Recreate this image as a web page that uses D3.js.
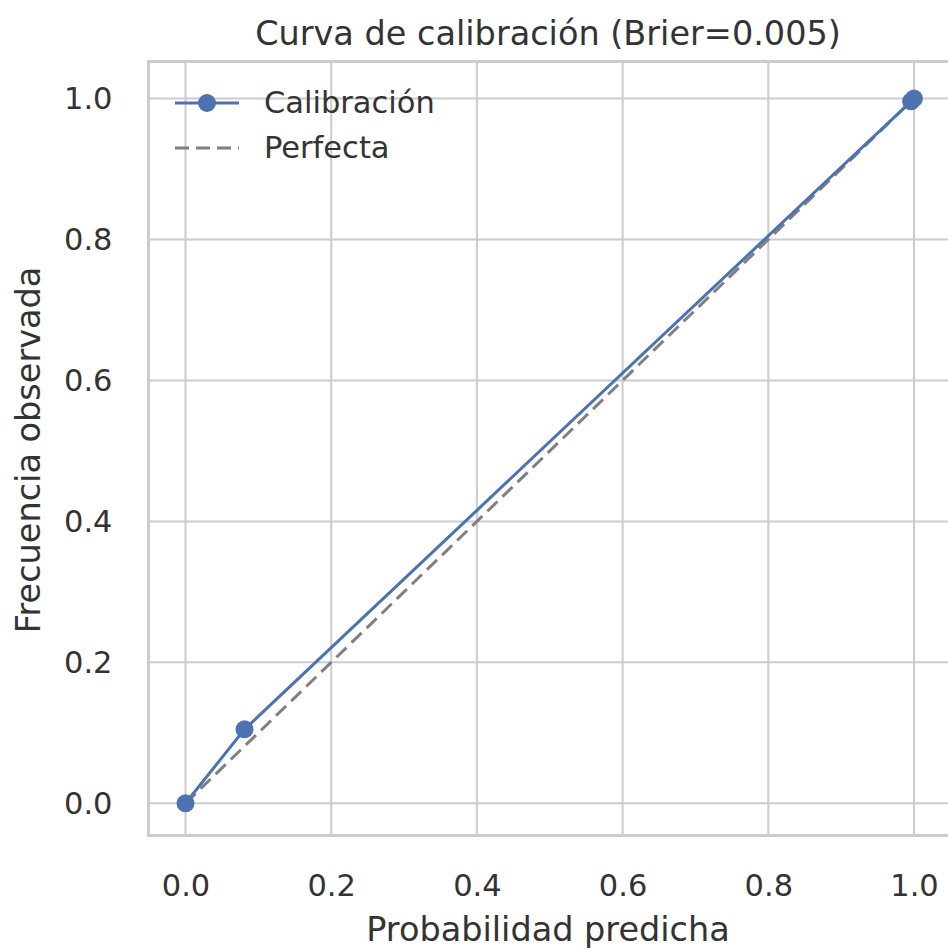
<!DOCTYPE html>
<html><head><meta charset="utf-8">
<script src="https://cdn.jsdelivr.net/npm/d3@7"></script>
<style>body{margin:0;background:#fff;} svg{display:block;font-family:"DejaVu Sans",sans-serif;}</style>
</head><body>
<script>
const predicted = [0.0, 0.081, 0.996, 1.0];
const observed  = [0.0, 0.105, 0.996, 1.0];
const perfect   = [0, 1];
const tickVals  = [0.0, 0.2, 0.4, 0.6, 0.8, 1.0];
const title = "Curva de calibración (Brier=0.005)";
const xLabel = "Probabilidad predicha";
const yLabel = "Frecuencia observada";
const legendLabels = ["Calibración", "Perfecta"];

const W = 948, H = 952;
const L = 148.5, R = 948, T = 61.5, B = 835.5;
const svg = d3.select("body").append("svg").attr("width", W).attr("height", H);
const x = d3.scaleLinear().domain([0, 1]).range([185.5, 914]);
const y = d3.scaleLinear().domain([0, 1]).range([803.3, 98.5]);
const grid = "#cccccc";
const txt = "#333333";

// grid
svg.append("g").selectAll("line").data(tickVals).join("line")
  .attr("x1", d => x(d)).attr("x2", d => x(d)).attr("y1", T).attr("y2", B)
  .attr("stroke", grid).attr("stroke-width", 2);
svg.append("g").selectAll("line").data(tickVals).join("line")
  .attr("y1", d => y(d)).attr("y2", d => y(d)).attr("x1", L).attr("x2", R)
  .attr("stroke", grid).attr("stroke-width", 2);

// spines
svg.append("rect").attr("x", L).attr("y", T).attr("width", R - L + 4).attr("height", B - T)
  .attr("fill", "none").attr("stroke", grid).attr("stroke-width", 3);

// axes tick labels
const xAxis = d3.axisBottom(x).tickValues(tickVals).tickFormat(d3.format(".1f")).tickSize(0).tickPadding(0);
const gx = svg.append("g").attr("transform", `translate(0,${B})`).call(xAxis);
gx.select(".domain").remove();
gx.selectAll("text").attr("font-size", 30.5).attr("fill", txt).attr("font-family", "DejaVu Sans")
  .attr("y", 60).attr("dy", "0");
const yAxis = d3.axisLeft(y).tickValues(tickVals).tickFormat(d3.format(".1f")).tickSize(0).tickPadding(36);
const gy = svg.append("g").attr("transform", `translate(${L},0)`).call(yAxis);
gy.select(".domain").remove();
gy.selectAll("text").attr("font-size", 30.5).attr("fill", txt).attr("font-family", "DejaVu Sans");

// perfect line
svg.append("line").attr("x1", x(perfect[0])).attr("y1", y(perfect[0]))
  .attr("x2", x(perfect[1])).attr("y2", y(perfect[1]))
  .attr("stroke", "#808080").attr("stroke-width", 3).attr("stroke-dasharray", "14,7");

// calibration
const pts = predicted.map((p, i) => [p, observed[i]]);
svg.append("path").datum(pts).attr("fill", "none").attr("stroke", "#4c72b0").attr("stroke-width", 3)
  .attr("d", d3.line().x(d => x(d[0])).y(d => y(d[1])));
svg.append("g").selectAll("circle").data(pts).join("circle")
  .attr("cx", d => x(d[0])).attr("cy", d => y(d[1])).attr("r", 9).attr("fill", "#4c72b0");

// labels
svg.append("text").attr("x", 548).attr("y", 45).attr("text-anchor", "middle")
  .attr("font-size", 33.5).attr("fill", txt).text(title);
svg.append("text").attr("x", 548).attr("y", 941).attr("text-anchor", "middle")
  .attr("font-size", 33.5).attr("fill", txt).text(xLabel);
svg.append("text").attr("transform", `translate(40,450) rotate(-90)`).attr("text-anchor", "middle")
  .attr("font-size", 33.5).attr("fill", txt).text(yLabel);

// legend
const lg = svg.append("g");
lg.append("line").attr("x1", 175).attr("x2", 239).attr("y1", 103).attr("y2", 103)
  .attr("stroke", "#4c72b0").attr("stroke-width", 3);
lg.append("circle").attr("cx", 207).attr("cy", 103).attr("r", 9).attr("fill", "#4c72b0");
lg.append("line").attr("x1", 175).attr("x2", 239).attr("y1", 148).attr("y2", 148)
  .attr("stroke", "#808080").attr("stroke-width", 3).attr("stroke-dasharray", "14,7");
lg.append("text").attr("x", 264).attr("y", 113).attr("font-size", 30.5).attr("fill", txt).text(legendLabels[0]);
lg.append("text").attr("x", 264).attr("y", 158).attr("font-size", 30.5).attr("fill", txt).text(legendLabels[1]);
</script>
</body></html>
